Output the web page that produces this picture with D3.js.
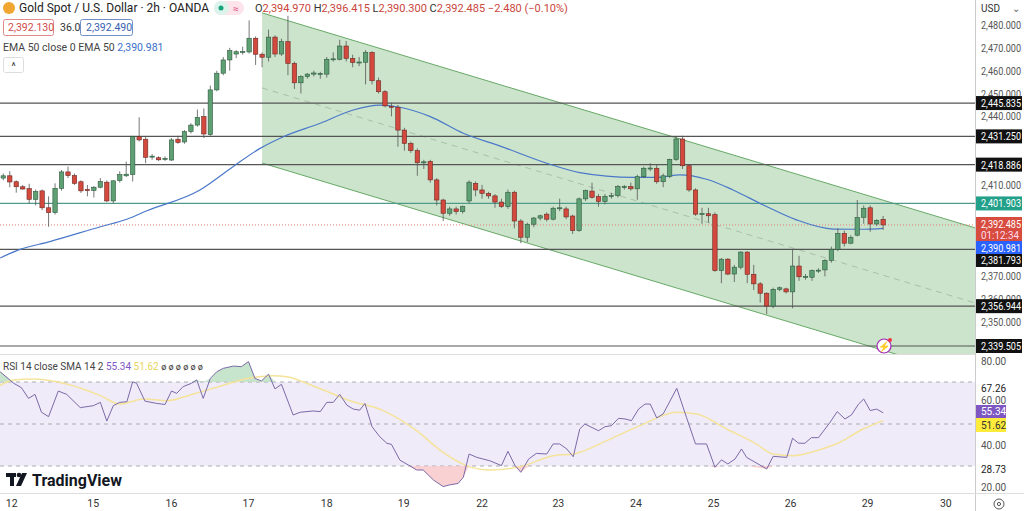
<!DOCTYPE html>
<html><head><meta charset="utf-8">
<script src="https://cdn.jsdelivr.net/npm/d3@7"></script>
<style>body{margin:0;background:#fff}text{font-family:Roboto,"Open Sans",sans-serif}</style>
</head><body><svg id="c" width="1024" height="511"></svg>
<script>
const opens=[2413,2414,2411.4,2409.2,2408.4,2403.7,2407.4,2400,2397.9,2408.5,2415.7,2414.1,2411.4,2408,2407.6,2409,2411.2,2403,2411.9,2414,2414.5,2431.1,2430,2422.2,2421.9,2421.3,2420.9,2430,2428.8,2433.3,2436.2,2439.9,2432,2451.6,2458.9,2464.7,2467.3,2468,2468.2,2474.2,2467.2,2465.9,2474.7,2467.3,2472.7,2463.2,2454.7,2457.4,2458.5,2458.4,2458.5,2464.8,2465,2470.8,2465.4,2463.5,2463.7,2468,2455.6,2450.8,2444.4,2444,2434,2428.2,2425,2419.9,2420.3,2412.2,2403.4,2397.6,2399.5,2398.3,2403,2410.7,2407.8,2406.3,2405.2,2402.5,2400.5,2406.8,2394.2,2387.1,2392.8,2395.5,2397.2,2395,2399.6,2399.5,2396.4,2390,2403.9,2407.3,2404.9,2402.7,2405.1,2405.3,2409.1,2409.3,2408.3,2413.6,2417.2,2417.3,2411.4,2413.8,2421.2,2430.1,2418.4,2407.8,2397.3,2397.4,2397,2372.5,2377.5,2371,2374,2380.6,2370.9,2366.7,2362.6,2357,2364.3,2364.5,2363.2,2374.5,2369.7,2369.6,2372.5,2372.8,2377,2381.8,2388.8,2384.5,2388,2395.8,2400,2392.9,2394.97];
const highs=[2415,2416,2412,2410,2410.5,2408,2408,2405,2410.7,2416.5,2418,2415,2412,2410,2409.5,2413,2412,2412,2416,2420.2,2431.5,2439.6,2431,2423.5,2422.5,2422.5,2430.5,2431.5,2434,2437,2443,2443.5,2453.5,2460,2466,2470,2469,2470.5,2482,2475,2468,2478,2475.5,2474,2484,2464,2458,2459,2460,2459.5,2466,2468,2473.5,2473,2467,2466,2469,2468.5,2457,2451.5,2446,2445,2435,2429,2426,2421,2421,2413,2404,2400.5,2400.5,2401,2412,2411.5,2410,2407,2406,2404,2408,2407.5,2395,2393.5,2396,2397,2398,2400.5,2404,2400.5,2397,2404.5,2408,2411,2406,2406,2406.5,2410,2410,2411,2414.5,2418,2419.5,2419,2415,2421.5,2431,2431.5,2419,2408.5,2400,2400,2398,2378,2378,2375,2381,2381,2375,2367.5,2363,2365,2365.5,2365,2382,2379,2371,2373,2373.5,2377.5,2383,2391,2390,2388,2403.4,2401,2401,2395,2396.415];
const lows=[2412,2409,2406.6,2408,2402,2401,2399,2391.7,2397,2407.5,2413,2410,2406.5,2405,2404.5,2408.5,2402.5,2402,2411,2413.5,2411.5,2429,2419.5,2421,2420.5,2420.5,2420.5,2428,2428,2432.5,2435.5,2430.5,2431.5,2451,2458,2460,2465.5,2467,2467.5,2462.5,2461.5,2464,2466,2466.5,2458,2452,2450,2456.5,2457.5,2456.5,2457,2464,2464.5,2464,2461.5,2462,2454,2454,2450,2444,2440,2426.7,2425,2424,2414,2417,2411,2401,2394.2,2396.5,2397,2397.5,2402,2405,2404,2404,2400,2400,2399.5,2391,2384.5,2385,2391.5,2394.5,2394,2394.5,2398.5,2395,2388.5,2389.5,2403,2404,2400.5,2401.5,2404,2404.5,2408,2407.5,2403.5,2413,2416,2410.5,2409,2413,2420.5,2417,2407,2396.5,2393,2393.5,2372,2367,2370.5,2367.5,2373,2367,2364,2358.5,2353.5,2356,2363.5,2362.5,2356,2368,2368.5,2368,2371.5,2370,2376,2381,2383,2384,2387.5,2393,2389.5,2392,2390.3];
const closes=[2414,2411.3,2409.2,2408.2,2403.7,2407.1,2400,2397.9,2408.5,2415.7,2414.1,2410.7,2407.4,2407.5,2409,2411.5,2403,2411.8,2414.5,2414.7,2431.1,2429.7,2422.1,2422.6,2421,2421.6,2429.7,2428.6,2433.3,2436.2,2439.6,2432.3,2451.6,2458.9,2464.7,2468.8,2468.3,2468.4,2474.2,2467.2,2465.9,2474.7,2467.3,2472.7,2463.2,2454.7,2457.4,2458.5,2459,2458.7,2465,2465.2,2470.8,2465.4,2463.6,2463.8,2468,2455.6,2450.8,2444.6,2444.2,2434,2428.2,2425,2419.7,2420.1,2412.2,2403.4,2397.6,2399.5,2398.3,2400.5,2411.2,2407.8,2406.3,2405.2,2402.5,2400.5,2406.8,2394.2,2387.1,2392.8,2395.5,2396.5,2395,2399.8,2400,2396,2390,2403.9,2407.5,2404.6,2402.7,2405,2405.4,2409.3,2409.3,2408.3,2413.6,2417.3,2417.4,2411.4,2414,2421.2,2430.1,2418.4,2407.8,2397.2,2397.5,2396.5,2372.5,2377.5,2371,2374,2380.6,2370.9,2366.7,2362.6,2357,2364.3,2365,2363.2,2374.5,2369.8,2369.9,2372.5,2372.7,2377,2381.8,2388.8,2384.5,2387,2395.8,2399.8,2392.9,2394.5,2392.485];
const emaPts=[[-0.5,2378],[2.6,2381.8],[7.2,2385.2],[15,2391.7],[19.1,2395],[22.2,2398.7],[30.4,2407.8],[35.5,2418],[39.7,2426],[43.3,2431.1],[49,2437],[54.1,2442.8],[58.2,2444.9],[61.3,2444],[66,2439.9],[71.1,2432.6],[76.8,2427],[84,2419.5],[89.1,2415.4],[97.4,2413.3],[101,2413.3],[104.6,2414.4],[108.7,2412.5],[112.8,2407.8],[117.5,2401.2],[122.6,2394.7],[128.3,2390.7],[132.9,2390.6],[136,2390.981]];
const rsiPts=[[-0.5,74.9],[1.6,69.4],[2.8,67.3],[3.9,62.2],[4.9,64.1],[5.9,55.6],[7,53.5],[8.5,65.7],[9.8,64.1],[11.9,57.8],[13.9,58.7],[15,60.3],[16,51.4],[17,58.7],[18,60.3],[19.1,60.6],[20,70.1],[20.6,69.4],[21.9,60.9],[23.7,59.8],[25,59.3],[26,65.7],[26.8,64.6],[27.8,67.8],[29.1,69.4],[29.9,71],[30.9,62.2],[32,71.7],[33,74.9],[34,76.5],[35.6,77.6],[36.8,77.3],[37.9,79.7],[38.9,71.7],[39.9,70.5],[41,73.7],[42,66.7],[43,68.9],[44.8,54.3],[45.9,55.6],[47.9,56.2],[49,55.9],[50,60.3],[51,60.3],[52,64.1],[53.1,59],[54.1,57.1],[55.1,56.6],[55.9,59.8],[57,48.7],[58.2,43.9],[59.3,40.8],[60,40.3],[61.3,32.8],[62.6,30.5],[63.9,28.1],[64.9,28.1],[66.5,23.3],[68,20.2],[69,21],[70.3,21.7],[71.1,24.6],[72,35.7],[73.2,34.1],[75.2,32.5],[77,30.2],[78,37],[79.1,30.2],[80,27],[81.2,33.3],[82.4,36],[84,35.7],[85,40.5],[86,40.5],[87.1,38.1],[88.1,34.4],[89.1,47.6],[89.9,50],[92,46.8],[93,48.7],[94,49.2],[95.1,52.7],[96.1,52.4],[97.1,51.6],[98.2,57.1],[99.2,59.5],[100,59.5],[101,52.9],[102,54.8],[104.1,67],[105.6,53.2],[107,40.5],[108.7,40.5],[110,29.4],[111,32.9],[112,31],[113.1,33.3],[114.1,38.1],[114.9,34.1],[118,28.6],[119,34.6],[121.1,34.1],[122,43.2],[122.9,40.9],[123.9,40.8],[124.9,43.5],[126,43.5],[127.8,50.8],[128.9,55.9],[130.1,52.4],[131.1,54.3],[132.2,59.5],[133,61.9],[134,56.4],[135,57.1],[136,55.34]];
const smaPts=[[-0.5,68.3],[1.6,71],[4.6,71.4],[9.8,69],[15,63.5],[18,59.5],[21.7,61.9],[25.3,61.1],[29.4,64.3],[33,67.5],[38.1,71.9],[41.7,73],[43.8,72.5],[48.4,67.5],[53.6,61.1],[58.7,56.4],[63.9,46.8],[67.5,37.6],[71.6,30.2],[75.2,28.1],[79.9,29.7],[85,34.9],[88.1,35.7],[93.3,42.1],[98.4,49.2],[104.1,55.6],[107.2,54.8],[111.8,47.6],[116.4,40.5],[119,35.7],[122.1,34.9],[125.7,37.3],[129.3,41.3],[132.9,47.6],[136,51.62]];
const levels=[2445.835,2431.25,2418.886,2401.903,2381.793,2356.944,2339.505];
const channelIdx=[40,150.2], channelUpper=[2485.3,2391.2], channelLower=[2419.6,2325.5];
const priceTicks=[2480,2470,2460,2450,2440,2410,2370,2360,2350];
const rsiTicks=["80.00","67.26","60.00","40.00","28.73","20.00"], rsiTickVals=[80,67.14,61.5,40,28.6,20];
const dayLabels=["12","15","16","17","18","19","22","23","24","25","26","29","30"];
const dayIdx=[1.3,13.9,26,37.9,50,61.9,74,85.8,97.8,109.8,121.7,133.6,145.7];

const svg=d3.select("#c");
const W=975;
const x=d3.scaleLinear().domain([0,150.2]).range([3.3,975]);
const y=d3.scaleLinear().domain([2339.505,2480]).range([346,25]);
const yr=d3.scaleLinear().domain([20,80]).range([487,361]);
const fmt=d3.format(",.3f");
svg.append("rect").attr("width",1024).attr("height",511).attr("fill","#fff");
const defs=svg.append("defs");
defs.append("clipPath").attr("id","pp").append("rect").attr("x",0).attr("y",0).attr("width",W).attr("height",354);
defs.append("clipPath").attr("id","rp").append("rect").attr("x",0).attr("y",355).attr("width",W).attr("height",138);
const P=svg.append("g").attr("clip-path","url(#pp)");
const cu=channelIdx.map((d,i)=>[x(d),y(channelUpper[i])]), cl=channelIdx.map((d,i)=>[x(d),y(channelLower[i])]);
P.append("path").attr("d",d3.line()([cu[0],cu[1],cl[1],cl[0]])+"Z").attr("fill","#c9e3c9").attr("opacity",0.95);
P.append("path").attr("d",d3.line()(cu)).attr("stroke","#66a866").attr("fill","none");
P.append("path").attr("d",d3.line()(cl)).attr("stroke","#66a866").attr("fill","none");
P.append("path").attr("d",d3.line()([[cu[0][0],(cu[0][1]+cl[0][1])/2],[cu[1][0],(cu[1][1]+cl[1][1])/2]])).attr("stroke","#a9bfa9").attr("stroke-dasharray","6,5").attr("fill","none");
levels.forEach(l=>P.append("line").attr("x1",0).attr("x2",W).attr("y1",y(l)).attr("y2",y(l)).attr("stroke",l===2401.903?"#4f9a8a":"#555").attr("stroke-width",1.2));
P.append("line").attr("x1",0).attr("x2",W).attr("y1",y(2392.485)).attr("y2",y(2392.485)).attr("stroke","#e08070").attr("stroke-dasharray","1,2");
P.append("path").attr("d",d3.line().x(d=>x(d[0])).y(d=>y(d[1])).curve(d3.curveMonotoneX)(emaPts)).attr("stroke","#4a78c9").attr("stroke-width",1.2).attr("fill","none");
const cw=4.4;
opens.forEach((o,i)=>{const c=closes[i],up=c>=o,cx=x(i);
 P.append("line").attr("x1",cx).attr("x2",cx).attr("y1",y(highs[i])).attr("y2",y(lows[i])).attr("stroke","#555").attr("stroke-width",0.8);
 P.append("rect").attr("x",cx-cw/2).attr("y",y(Math.max(o,c))).attr("width",cw).attr("height",Math.max(1,Math.abs(y(o)-y(c))))
 .attr("fill",up?"#5f9f74":"#d4493e").attr("stroke",up?"#2e5a3e":"#6b2a24").attr("stroke-width",0.6);});
P.append("circle").attr("cx",884).attr("cy",346).attr("r",7).attr("fill","#fff").attr("stroke","#9c27b0").attr("stroke-width",1.2);
P.append("text").attr("x",884).attr("y",350).attr("text-anchor","middle").attr("font-size",10).attr("fill","#9c27b0").text("⚡");
P.append("circle").attr("cx",890).attr("cy",340).attr("r",2).attr("fill","#f23645");
svg.append("line").attr("x1",0).attr("x2",W).attr("y1",354.5).attr("y2",354.5).attr("stroke","#ddd");
svg.append("line").attr("x1",W+.5).attr("x2",W+.5).attr("y1",0).attr("y2",511).attr("stroke","#ccc");
svg.append("line").attr("x1",0).attr("x2",1024).attr("y1",493.5).attr("y2",493.5).attr("stroke","#ddd");
const R=svg.append("g").attr("clip-path","url(#rp)");
R.append("rect").attr("x",0).attr("width",W).attr("y",yr(70)).attr("height",yr(30)-yr(70)).attr("fill","#efebf8");
[70,50,30].forEach(v=>R.append("line").attr("x1",0).attr("x2",W).attr("y1",yr(v)).attr("y2",yr(v)).attr("stroke","#999").attr("stroke-dasharray","4,4").attr("stroke-width",0.8));
R.append("path").attr("d",d3.area().x(d=>x(d[0])).y0(yr(70)).y1(d=>yr(Math.max(70,d[1])))(rsiPts)).attr("fill","#b9dfc1").attr("opacity",0.8);
R.append("path").attr("d",d3.area().x(d=>x(d[0])).y0(yr(30)).y1(d=>yr(Math.min(30,d[1])))(rsiPts)).attr("fill","#f7c6c8").attr("opacity",0.8);
R.append("path").attr("d",d3.line().x(d=>x(d[0])).y(d=>yr(d[1])).curve(d3.curveMonotoneX)(smaPts)).attr("stroke","#f5e39a").attr("stroke-width",1.5).attr("fill","none");
R.append("path").attr("d",d3.line().x(d=>x(d[0])).y(d=>yr(d[1]))(rsiPts)).attr("stroke","#7b6aa8").attr("stroke-width",1).attr("fill","none");
const A=svg.append("g").attr("font-size",10).attr("fill","#555");
function lab(t,yy,col,w){const e=A.append("text").attr("x",981).attr("y",yy).attr("fill",col||"#555").text(t);if(w)e.attr("textLength",w).attr("lengthAdjust","spacingAndGlyphs");return e;}
lab("USD",12,"#333");
A.append("text").attr("x",1012).attr("y",12).attr("fill","#666").text("⌄");
priceTicks.forEach(t=>lab(fmt(t),y(t)+4,"#555",40));
levels.forEach(l=>{const col=l===2401.903?"#22a08a":"#111";let yy=y(l);if(l===2381.793)yy=260;
 A.append("rect").attr("x",976).attr("y",yy-7).attr("width",46).attr("height",14).attr("fill",col);
 lab(fmt(l),yy+4,"#fff",40);});
A.append("rect").attr("x",976).attr("y",217).attr("width",46).attr("height",24).attr("fill","#d84b3f");
lab(fmt(2392.485),228,"#fff",40);
lab("01:12:34",239,"#fde",38);
A.append("rect").attr("x",976).attr("y",241).attr("width",46).attr("height",13).attr("fill","#2962ff");
lab(fmt(2390.981),251.5,"#fff",40);
rsiTicks.forEach((t,i)=>lab(t,yr(rsiTickVals[i])+4,t==="67.26"||t==="28.73"?"#222":"#555"));
A.append("rect").attr("x",976).attr("y",405).attr("width",30).attr("height",13).attr("fill","#7e57c2");
lab("55.34",415,"#fff");
A.append("rect").attr("x",976).attr("y",418).attr("width",30).attr("height",14).attr("fill","#ffeb3b");
lab("51.62",429,"#333");
A.append("circle").attr("cx",999).attr("cy",504).attr("r",5).attr("fill","none").attr("stroke","#555");
A.append("circle").attr("cx",999).attr("cy",504).attr("r",1.6).attr("fill","none").attr("stroke","#555");
dayLabels.forEach((d,i)=>svg.append("text").attr("x",x(dayIdx[i])).attr("y",507).attr("text-anchor","middle").attr("font-size",10.5).attr("fill","#333").text(d));
const H=svg.append("g").attr("font-size",12);
H.append("circle").attr("cx",9).attr("cy",8).attr("r",6).attr("fill","#f0a630");
H.append("text").attr("x",19).attr("y",12).attr("font-size",12.5).attr("fill","#222").attr("textLength",190).attr("lengthAdjust","spacingAndGlyphs").text("Gold Spot / U.S. Dollar · 2h · OANDA");
H.append("rect").attr("x",214).attr("y",1).attr("width",30).attr("height",14).attr("rx",7).attr("fill","#fde4ea");
H.append("rect").attr("x",214).attr("y",1).attr("width",15).attr("height",14).attr("rx",7).attr("fill","#dcf3ec");
H.append("circle").attr("cx",221).attr("cy",8).attr("r",2.5).attr("fill","#1aa37a");
H.append("text").attr("x",233).attr("y",12).attr("font-size",10).attr("fill","#e0497a").text("≈");
const ohlc=[["O","2,394.970"],["H","2,396.415"],["L","2,390.300"],["C","2,392.485"]];
let tx=H.append("text").attr("x",255).attr("y",12).attr("font-size",11);
ohlc.forEach(([k,v])=>{tx.append("tspan").attr("fill","#333").text(k);tx.append("tspan").attr("fill","#c9463c").text(v+" ");});
tx.append("tspan").attr("fill","#c9463c").text("−2.480 (−0.10%)");
H.append("rect").attr("x",3.5).attr("y",19.5).attr("width",50).attr("height",16).attr("rx",2).attr("fill","#fff").attr("stroke","#e08a8a");
H.append("text").attr("x",8).attr("y",31).attr("font-size",10.5).attr("fill","#d04a4a").text("2,392.130");
H.append("text").attr("x",60).attr("y",31).attr("font-size",10.5).attr("fill","#333").text("36.0");
H.append("rect").attr("x",80.5).attr("y",19.5).attr("width",52).attr("height",16).attr("rx",2).attr("fill","#fff").attr("stroke","#6f8fc8");
H.append("text").attr("x",86).attr("y",31).attr("font-size",10.5).attr("fill","#3a62b0").text("2,392.490");
let et=H.append("text").attr("x",3).attr("y",51).attr("font-size",10.5);
et.append("tspan").attr("fill","#444").text("EMA 50 close 0 EMA 50  ");
et.append("tspan").attr("fill","#3a6fc9").text("2,390.981");
H.append("rect").attr("x",3.5).attr("y",57.5).attr("width",20).attr("height",15).attr("rx",2).attr("fill","#fff").attr("stroke","#ddd");
H.append("text").attr("x",13.5).attr("y",70).attr("text-anchor","middle").attr("font-size",10).attr("fill","#333").text("^");
let rt=H.append("text").attr("x",3).attr("y",370).attr("font-size",10);
rt.append("tspan").attr("fill","#444").text("RSI 14 close SMA 14 2  ");
rt.append("tspan").attr("fill","#7e57c2").text("55.34  ");
rt.append("tspan").attr("fill","#e6d55a").text("51.62  ");
rt.append("tspan").attr("fill","#333").attr("font-size",9).text("ø ø ø ø ø ø");
const L=svg.append("g").attr("fill","#131722");
L.append("rect").attr("x",6).attr("y",473).attr("width",10).attr("height",4);
L.append("rect").attr("x",10).attr("y",473).attr("width",4).attr("height",13);
L.append("circle").attr("cx",19).attr("cy",475).attr("r",2.3);
L.append("path").attr("d","M22,473 L27,473 L21,486 L16,486 Z");
L.append("text").attr("x",32).attr("y",486).attr("font-size",16).attr("font-weight","bold").attr("fill","#131722").text("TradingView");
</script></body></html>
